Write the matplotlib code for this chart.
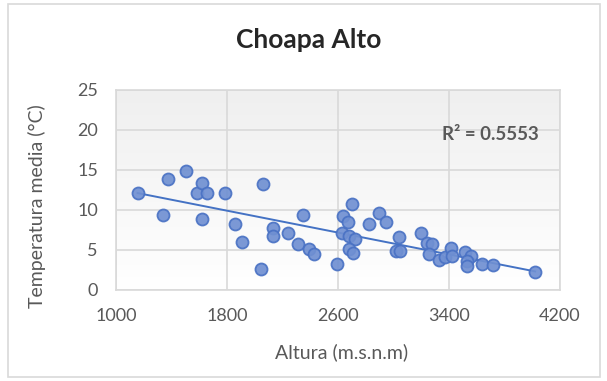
import numpy as np
import matplotlib
matplotlib.use("Agg")
import matplotlib.pyplot as plt
from matplotlib.patches import Rectangle
from matplotlib.colors import LinearSegmentedColormap

# Data
altura = [1156, 1341, 1372, 1502, 1582, 1618, 1618, 1659, 1788, 1858,
          1906, 2048, 2057, 2134, 2134, 2237, 2309, 2350, 2393, 2427,
          2592, 2628, 2639, 2675, 2699, 2680, 2725, 2680, 2710, 2826,
          2898, 2944, 3043, 3019, 3048, 3200, 3239, 3279, 3257, 3330,
          3370, 3412, 3420, 3516, 3556, 3528, 3530, 3636, 3720, 4021]
temperatura = [12.1, 9.4, 13.9, 14.9, 12.1, 13.4, 8.9, 12.1, 12.1, 8.3,
               6.0, 2.6, 13.3, 7.7, 6.7, 7.1, 5.8, 9.4, 5.1, 4.5,
               3.2, 7.1, 9.2, 8.5, 10.8, 6.7, 6.4, 5.1, 4.6, 8.3,
               9.6, 8.5, 6.6, 4.9, 4.9, 7.1, 5.9, 5.8, 4.5, 3.7,
               4.1, 5.2, 4.3, 4.7, 4.3, 3.6, 3.0, 3.2, 3.1, 2.2]
title = "Choapa Alto"
xlabel = "Altura (m.s.n.m)"
ylabel = "Temperatura media (°C)"
r2_text = "R² = 0.5553"
xticks = [1000, 1800, 2600, 3400, 4200]
yticks = [0, 5, 10, 15, 20, 25]

plt.rcParams['font.family'] = ['Lato', 'DejaVu Sans']

W, H = 607, 381
fig = plt.figure(figsize=(W / 100, H / 100), dpi=100)
# outer chart frame
fig.patches.append(Rectangle((8 / W, 4 / H), 592 / W, 373 / H, transform=fig.transFigure,
                             facecolor="white", edgecolor="#d9d9d9", lw=1.2, zorder=-5))

ax = fig.add_axes([116 / W, 1 - 290 / H, 444 / W, 200 / H])

# gradient background of plot area
grad = np.linspace(0, 1, 256).reshape(-1, 1)
cmap = LinearSegmentedColormap.from_list("bg", ["#ffffff", "#efefef"])
ax.imshow(grad, extent=[1000, 4200, 25, 0], aspect='auto', cmap=cmap, zorder=0)
ax.set_xlim(1000, 4200)
ax.set_ylim(0, 25)

ax.set_xticks(xticks)
ax.set_yticks(yticks)
ax.grid(True, color="#d9d9d9", lw=1.2, zorder=1)
for s in ax.spines.values():
    s.set_color("#d9d9d9")
    s.set_linewidth(1.2)
ax.tick_params(length=0, labelsize=13, colors="#595959")
ax.tick_params(axis='y', pad=13)
ax.tick_params(axis='x', pad=13)

# trend line
coef = np.polyfit(altura, temperatura, 1)
xl = np.array([min(altura), max(altura)])
ax.plot(xl, np.polyval(coef, xl), color="#4472c4", lw=1.4, zorder=2)

ax.scatter(altura, temperatura, s=75, facecolor="#7090d2", edgecolor="#4a72c4",
           linewidths=1.3, alpha=0.92, zorder=3)

ax.text(3700, 19.4, r2_text, ha="center", va="center", fontsize=13.5,
        color="#595959", fontweight="bold", zorder=4)

fig.text(309 / W, 1 - 40 / H, title, ha="center", va="center", fontsize=19,
         fontweight="bold", color="#262626")
fig.text(342 / W, 1 - 352 / H, xlabel, ha="center", va="center", fontsize=14,
         color="#595959")
fig.text(37 / W, 1 - 206 / H, ylabel, ha="center", va="center", fontsize=14,
         color="#595959", rotation=90)

fig.savefig("out.png", dpi=100)
